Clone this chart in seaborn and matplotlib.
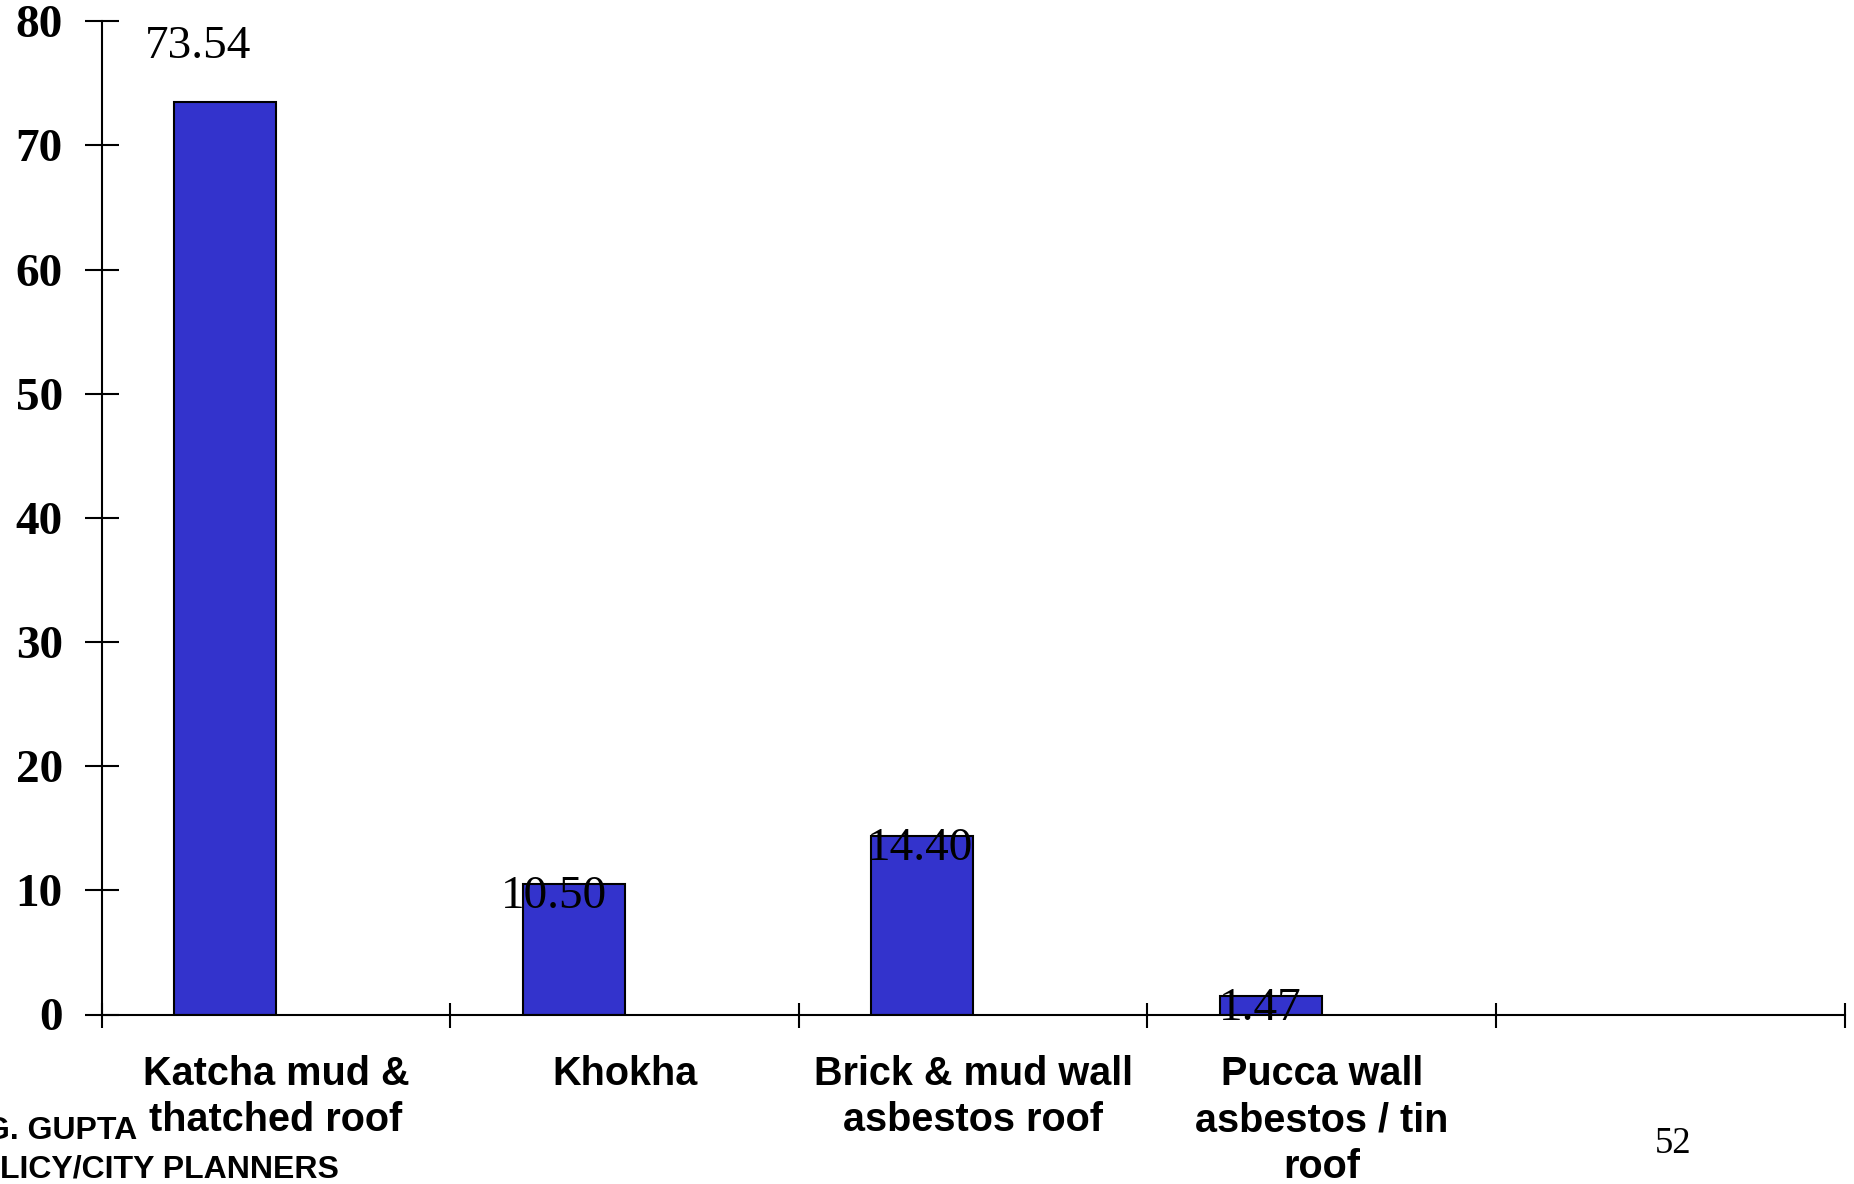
import matplotlib
matplotlib.use("Agg")
import matplotlib.pyplot as plt
import pandas as pd
import seaborn as sns

# Housing structure types (last slot on the axis is left empty)
categories = [
    "Katcha mud &\nthatched roof",
    "Khokha",
    "Brick & mud wall\nasbestos roof",
    "Pucca wall\nasbestos / tin\nroof",
    " ",
]
shares = [73.54, 10.50, 14.40, 1.47]
series_names = ["Houses", "Other"]
y_ticks = [0, 10, 20, 30, 40, 50, 60, 70, 80]
footer_lines = ["G. GUPTA", "LICY/CITY PLANNERS"]
page_number = "52"

BAR_COLOR = "#3333CC"
W, H = 1854, 1184

sns.set_theme(style="white")
plt.rcParams["font.family"] = ["Liberation Sans", "DejaVu Sans"]
plt.rcParams["text.color"] = "black"
plt.rcParams["xtick.color"] = "black"
plt.rcParams["ytick.color"] = "black"

df = pd.DataFrame({
    "structure": categories[:len(shares)],
    "share": shares,
    "series": series_names[0],
})

fig = plt.figure(figsize=(W / 100, H / 100), dpi=100)
ax = fig.add_axes([101.7 / W, 1 - 1014.5 / H, (1844.5 - 101.7) / W, (1014.5 - 21.3) / H])

# clustered layout: the second series slot stays empty
sns.barplot(
    data=df, x="structure", y="share", hue="series",
    order=categories, hue_order=series_names,
    palette={series_names[0]: BAR_COLOR, series_names[1]: BAR_COLOR},
    width=0.584, dodge=True, saturation=1, errorbar=None,
    edgecolor="black", linewidth=1.5, legend=False, ax=ax,
)

ax.set_xlim(-0.5, len(categories) - 0.5)
ax.set_ylim(0, 80)
ax.set_xlabel("")
ax.set_ylabel("")

# spines
for side in ["top", "right"]:
    ax.spines[side].set_visible(False)
for side in ["left", "bottom"]:
    ax.spines[side].set_color("black")
    ax.spines[side].set_linewidth(1.5)

# y axis: crossing ticks with bold serif labels
ax.set_yticks(y_ticks)
ax.set_yticklabels([str(t) for t in y_ticks], fontfamily="Liberation Serif",
                   fontweight="bold", fontsize=34, color="black")
ax.tick_params(axis="y", direction="inout", length=24, width=1.5,
               color="black", pad=16, left=True)

# x axis: category labels centred in each slot, crossing ticks at slot edges
ax.set_xticks(range(len(categories)))
ax.set_xticklabels(categories, fontweight="bold", fontsize=28.5,
                   linespacing=1.28, color="black")
ax.tick_params(axis="x", which="major", length=0, pad=29)
ax.set_xticks([i - 0.5 for i in range(len(categories) + 1)], minor=True)
ax.tick_params(axis="x", which="minor", direction="inout", length=18, width=1.5,
               color="black", bottom=True)

# value labels on each bar
label_dx = [-19.4, -14.4, -1.4, -7.9]
label_dy = [31, -17.3, -17.3, -17.3]
for rect, v, dx, dy in zip(ax.containers[0], shares, label_dx, label_dy):
    ax.annotate(f"{v:.2f}", (rect.get_x() + rect.get_width() / 2, v),
                xytext=(dx, dy), textcoords="offset points",
                ha="center", va="baseline", fontsize=34,
                fontfamily="Liberation Serif", color="black")

# footer text
fig.text(137 / W, 1 - 1139 / H, footer_lines[0], ha="right", va="baseline",
         fontsize=23, fontweight="bold", color="black")
fig.text(339 / W, 1 - 1177.6 / H, footer_lines[1], ha="right", va="baseline",
         fontsize=23, fontweight="bold", color="black")
fig.text(1673 / W, 1 - 1153 / H, page_number, ha="center", va="baseline",
         fontsize=26.5, fontfamily="Liberation Serif", color="black")

fig.savefig("out.png", dpi=100, facecolor="white")
